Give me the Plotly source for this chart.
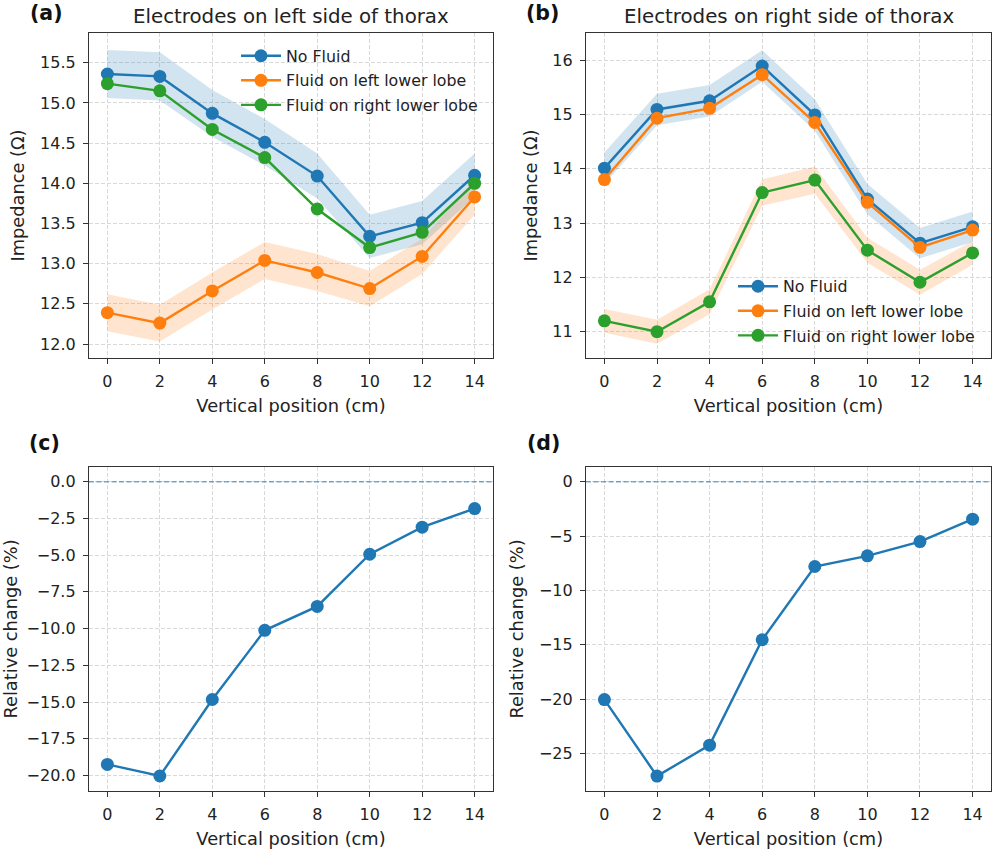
import plotly.graph_objects as go

# ---------------- data ----------------
positions = [0, 2, 4, 6, 8, 10, 12, 14]

left_no_fluid = [15.36, 15.33, 14.87, 14.51, 14.09, 13.34, 13.51, 14.10]
left_no_fluid_sd = [0.30, 0.30, 0.29, 0.29, 0.28, 0.27, 0.27, 0.27]
left_fluid_left = [12.39, 12.26, 12.66, 13.04, 12.89, 12.69, 13.09, 13.83]
left_fluid_left_sd = [0.23, 0.23, 0.23, 0.23, 0.23, 0.22, 0.22, 0.22]
left_fluid_right = [15.24, 15.15, 14.67, 14.32, 13.68, 13.20, 13.39, 14.00]

right_no_fluid = [14.01, 15.09, 15.25, 15.89, 14.99, 13.44, 12.63, 12.93]
right_no_fluid_sd = [0.29, 0.29, 0.29, 0.29, 0.29, 0.28, 0.28, 0.28]
right_fluid_left = [13.80, 14.93, 15.11, 15.73, 14.85, 13.38, 12.55, 12.87]
right_fluid_right = [11.20, 11.00, 11.55, 13.56, 13.79, 12.50, 11.91, 12.45]
right_fluid_right_sd = [0.22, 0.22, 0.23, 0.24, 0.25, 0.23, 0.23, 0.22]

rel_left = [-19.25, -20.04, -14.83, -10.12, -8.49, -4.94, -3.10, -1.83]
rel_right = [-20.05, -27.09, -24.24, -14.54, -7.80, -6.82, -5.51, -3.45]

series_names = ["No Fluid", "Fluid on left lower lobe", "Fluid on right lower lobe"]
titles = ["Electrodes on left side of thorax", "Electrodes on right side of thorax"]
panel_labels = ["(a)", "(b)", "(c)", "(d)"]

C0, C1, C2 = "#1f77b4", "#ff7f0e", "#2ca02c"
C0_FILL = "rgba(31,119,180,0.2)"
C1_FILL = "rgba(255,127,14,0.2)"

W, H = 994, 849
FONT = "DejaVu Sans"
TXT = "#222222"


def band(x, mean, sd, fill, xa, ya):
    upper = [m + s for m, s in zip(mean, sd)]
    lower = [m - s for m, s in zip(mean, sd)]
    return go.Scatter(
        x=list(x) + list(x)[::-1], y=upper + lower[::-1],
        fill="toself", fillcolor=fill, line=dict(width=0),
        mode="lines", hoverinfo="skip", showlegend=False,
        xaxis=xa, yaxis=ya,
    )


def line(x, y, color, name, xa, ya, legend="legend", show=True, group=None):
    return go.Scatter(
        x=x, y=y, mode="lines+markers", name=name,
        line=dict(color=color, width=2.4),
        marker=dict(color=color, size=13),
        xaxis=xa, yaxis=ya, showlegend=show,
        legend=legend, legendgroup=group,
    )


fig = go.Figure()

# panel (a)
fig.add_trace(band(positions, left_no_fluid, left_no_fluid_sd, C0_FILL, "x", "y"))
fig.add_trace(band(positions, left_fluid_left, left_fluid_left_sd, C1_FILL, "x", "y"))
fig.add_trace(line(positions, left_no_fluid, C0, series_names[0], "x", "y", "legend", group="a0"))
fig.add_trace(line(positions, left_fluid_left, C1, series_names[1], "x", "y", "legend", group="a1"))
fig.add_trace(line(positions, left_fluid_right, C2, series_names[2], "x", "y", "legend", group="a2"))

# panel (b)
fig.add_trace(band(positions, right_no_fluid, right_no_fluid_sd, C0_FILL, "x2", "y2"))
fig.add_trace(band(positions, right_fluid_right, right_fluid_right_sd, C1_FILL, "x2", "y2"))
fig.add_trace(line(positions, right_no_fluid, C0, series_names[0], "x2", "y2", "legend2", group="b0"))
fig.add_trace(line(positions, right_fluid_left, C1, series_names[1], "x2", "y2", "legend2", group="b1"))
fig.add_trace(line(positions, right_fluid_right, C2, series_names[2], "x2", "y2", "legend2", group="b2"))

# panel (c), (d)
fig.add_trace(line(positions, rel_left, C0, "rel_left", "x3", "y3", show=False))
fig.add_trace(line(positions, rel_right, C0, "rel_right", "x4", "y4", show=False))


def px_x(v):
    return v / W


def px_y(v):
    return 1 - v / H


xdom_l = [px_x(89), px_x(493)]
xdom_r = [px_x(586), px_x(991)]
ydom_t = [px_y(358), px_y(33)]
ydom_b = [px_y(791), px_y(467)]

common_axis = dict(
    showline=True, linecolor="#333333", linewidth=1.3, mirror=True,
    ticks="outside", ticklen=5, tickwidth=1.2, tickcolor="#333333",
    showgrid=True, gridcolor="#d9d9d9", gridwidth=0.8, griddash="4px,2px",
    zeroline=False, ticklabelstandoff=4,
    tickfont=dict(family=FONT, size=16, color=TXT),
)

xaxis_common = dict(common_axis, range=[-0.7, 14.7], tickmode="array",
                    tickvals=positions, ticktext=[str(p) for p in positions],
                    title=dict(text="Vertical position (cm)",
                               font=dict(family=FONT, size=17.8, color=TXT),
                               standoff=9))


def yaxis(title, rng, dtick, fmt):
    return dict(common_axis, range=rng, dtick=dtick, tickformat=fmt,
                title=dict(text=title, font=dict(family=FONT, size=17.8, color=TXT),
                           standoff=10))


legend_common = dict(xanchor="left", yanchor="top", bgcolor="rgba(0,0,0,0)",
                     borderwidth=0, itemwidth=40, tracegroupgap=1,
                     font=dict(family=FONT, size=15.8, color=TXT))

fig.update_layout(
    width=W, height=H,
    margin=dict(l=0, r=0, t=0, b=0),
    paper_bgcolor="white", plot_bgcolor="white",
    font=dict(family=FONT, color=TXT),
    xaxis=dict(xaxis_common, domain=xdom_l, anchor="y"),
    yaxis=dict(yaxis("Impedance (Ω)", [11.826, 15.87], 0.5, ".1f"), domain=ydom_t, anchor="x"),
    xaxis2=dict(xaxis_common, domain=xdom_r, anchor="y2"),
    yaxis2=dict(yaxis("Impedance (Ω)", [10.516, 16.497], 1, "d"), domain=ydom_t, anchor="x2"),
    xaxis3=dict(xaxis_common, domain=xdom_l, anchor="y3"),
    yaxis3=dict(yaxis("Relative change (%)", [-21.06, 1.0], 2.5, ".1f"), domain=ydom_b, anchor="x3"),
    xaxis4=dict(xaxis_common, domain=xdom_r, anchor="y4"),
    yaxis4=dict(yaxis("Relative change (%)", [-28.46, 1.355], 5, "d"), domain=ydom_b, anchor="x4"),
    legend=dict(legend_common, x=px_x(236), y=px_y(39)),
    legend2=dict(legend_common, x=px_x(733), y=px_y(269.5)),
    showlegend=True,
)

# zero reference lines
for xa, ya in [("x3", "y3"), ("x4", "y4")]:
    fig.add_shape(type="line", xref=f"{xa} domain", yref=ya, x0=0, x1=1, y0=0, y1=0,
                  line=dict(color="rgba(31,119,180,0.6)", width=1.5, dash="5px,2.5px"))

# titles
fig.add_annotation(text=titles[0], x=px_x(291), y=px_y(16), xref="paper", yref="paper",
                   xanchor="center", yanchor="middle",
                   showarrow=False, font=dict(family=FONT, size=19.8, color=TXT))
fig.add_annotation(text=titles[1], x=px_x(788.5), y=px_y(16), xref="paper", yref="paper",
                   xanchor="center", yanchor="middle",
                   showarrow=False, font=dict(family=FONT, size=19.8, color=TXT))

# panel labels
label_pos = [(28, 13), (524, 13), (27, 443), (525, 443)]
for lab, (lx, ly) in zip(panel_labels, label_pos):
    fig.add_annotation(text=f"<b>{lab}</b>", x=px_x(lx), y=px_y(ly), xref="paper", yref="paper",
                       xanchor="left", yanchor="middle", showarrow=False,
                       font=dict(family=FONT, size=20.5, color="#111111"))

fig.write_html("out.html", config={"displayModeBar": False},
               post_script="document.body.style.margin='0px';")
